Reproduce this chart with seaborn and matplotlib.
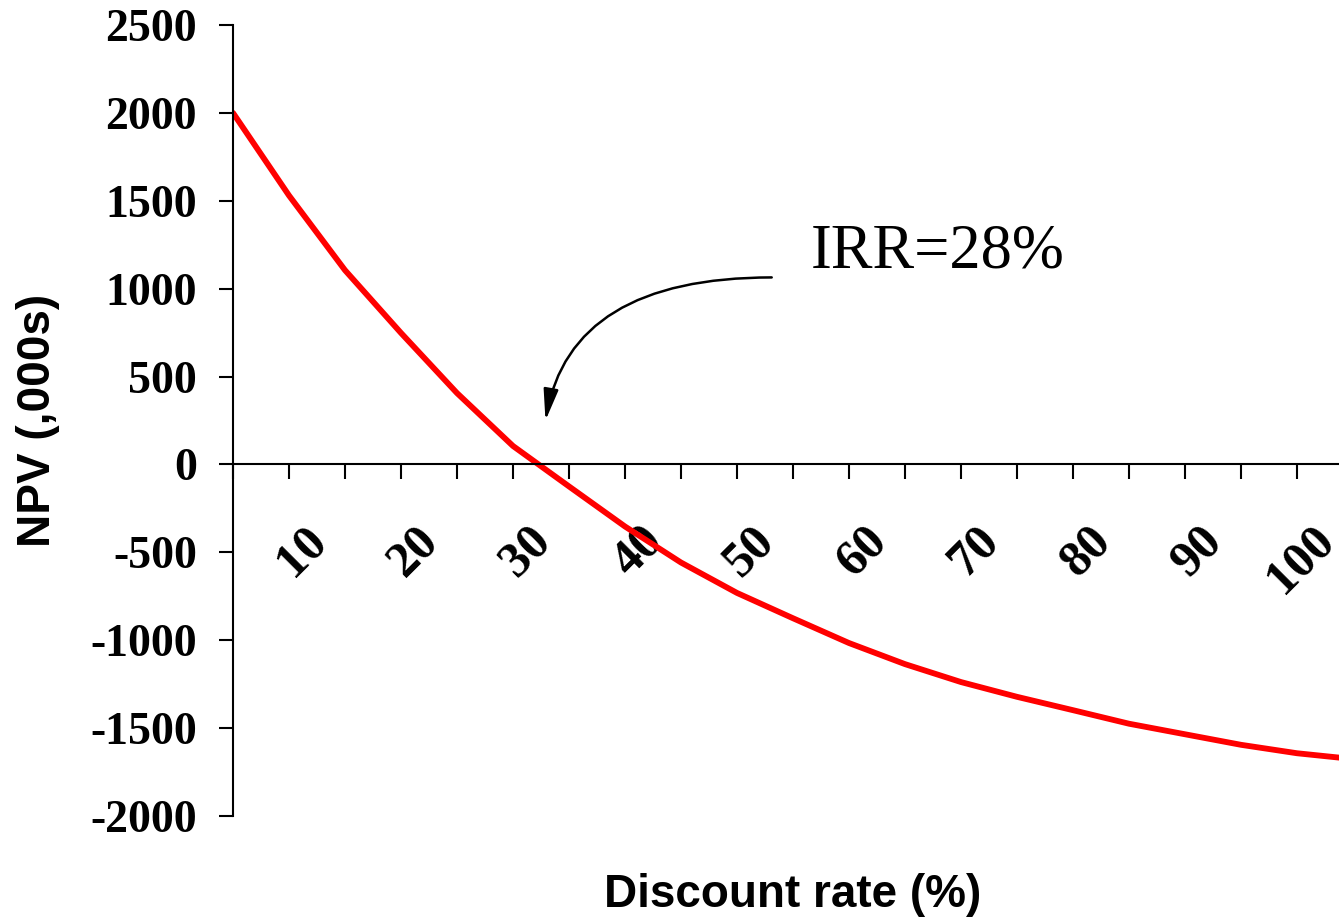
import matplotlib
matplotlib.use("Agg")
import matplotlib.pyplot as plt
import matplotlib.transforms as mtrans
import seaborn as sns
import pandas as pd

# NPV profile (discount rate in %, NPV in thousands)
rate = [0, 5, 10, 15, 20, 25, 30, 35, 40, 45, 50,
        55, 60, 65, 70, 75, 80, 85, 90, 95, 100]
npv = [2000, 1530, 1105, 748, 406, 105, -125, -353, -558, -731, -875,
       -1016, -1136, -1238, -1322, -1398, -1475, -1535, -1595, -1643, -1676]

xticks = list(range(0, 101, 5))
xticklabels = ["" if (t % 10 or t == 0) else str(t) for t in xticks]
yticks = list(range(-2000, 2501, 500))

irr_text = "IRR=28%"
arrow_start = (48.1, 1064)
arrow_end = (27.9, 250)

df = pd.DataFrame({"rate": rate, "npv": npv})

sns.set_style("white")
plt.rcParams.update({"text.color": "black", "axes.labelcolor": "black",
                     "xtick.color": "black", "ytick.color": "black"})
serif = "Liberation Serif"
sans = "Liberation Sans"

fig = plt.figure(figsize=(13.39, 9.21), dpi=100)
ax = fig.add_axes([233 / 1339, 1 - 816 / 921, 1120 / 1339, 791 / 921])

sns.lineplot(data=df, x="rate", y="npv", color="#ff0000", linewidth=4.2, ax=ax)

ax.set_xlim(0, 100)
ax.set_ylim(-2000, 2500)

# axes look: y axis on the left, x axis running through zero
for side in ["top", "right"]:
    ax.spines[side].set_visible(False)
ax.spines["bottom"].set_position(("data", 0))
for side in ["left", "bottom"]:
    ax.spines[side].set_color("black")
    ax.spines[side].set_linewidth(1.5)

ax.set_yticks(yticks)
ax.set_yticklabels([str(v) for v in yticks], fontfamily=serif,
                   fontweight="bold", fontsize=33)
ax.tick_params(axis="y", direction="out", length=10, width=1.5, pad=16,
               left=True)

ax.set_xticks(xticks)
ax.set_xticklabels(xticklabels, fontfamily=serif, fontweight="bold",
                   fontsize=36, rotation=45, ha="right", va="top",
                   rotation_mode="anchor")
ax.tick_params(axis="x", direction="out", length=11, width=1.5, pad=27,
               bottom=True)
shift = mtrans.ScaledTranslation(-0.42, 0, fig.dpi_scale_trans)
for lab in ax.get_xticklabels():
    lab.set_transform(lab.get_transform() + shift)

ax.set_xlabel("Discount rate (%)", fontfamily=sans, fontweight="bold",
              fontsize=33, va="center")
ax.xaxis.set_label_coords(0.5, -0.1)
ax.set_ylabel("NPV (,000s)", fontfamily=sans, fontweight="bold",
              fontsize=33, va="center")
ax.yaxis.set_label_coords(-0.174, 0.5)

ax.text(51.6, 1120, irr_text, fontfamily=serif, fontsize=45,
        ha="left", va="baseline")
ax.annotate("", xy=arrow_end, xytext=arrow_start,
            arrowprops=dict(arrowstyle="-|>,head_length=1.9,head_width=0.45",
                            connectionstyle="angle3,angleA=0,angleB=80",
                            color="black", lw=1.8, shrinkA=0, shrinkB=0))

fig.savefig("out.png", dpi=100)
plt.close(fig)
